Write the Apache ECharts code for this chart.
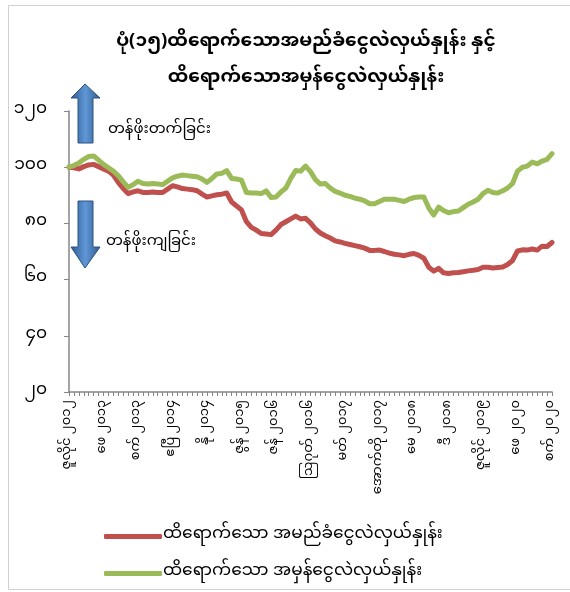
<!DOCTYPE html>
<html>
<head>
<meta charset="utf-8">
<script src="https://cdn.jsdelivr.net/npm/echarts@6/dist/echarts.min.js"></script>
<style>
  html, body { margin: 0; padding: 0; background: #fff; }
  #chart { width: 570px; height: 592px; }
</style>
</head>
<body>
<div id="chart"></div>
<script>
// monthly index, Jul 2012 - Sep 2020
var monthNames = ['ဇန်', 'ဖေ', 'မတ်', 'ဧပြီ', 'မေ', 'ဇွန်', 'ဇူလိုင်', 'ဩဂုတ်', 'စက်', 'အောက်တို', 'နို', 'ဒီ'];
var startYear = 2012;
var startMonth = 6; // July
var monthCount = 99;

var neerValues = [
  100.0, 99.8, 99.4, 100.2, 100.8, 101.0, 100.2, 99.4, 98.6, 97.2,
  94.6, 92.4, 90.6, 91.2, 91.6, 91.0, 91.0, 91.2, 91.0, 91.0,
  92.2, 93.4, 93.0, 92.4, 92.2, 92.0, 91.6, 90.4, 89.4, 89.8,
  90.2, 90.4, 90.8, 87.6, 86.2, 84.8, 80.6, 78.6, 77.6, 76.4,
  76.2, 76.0, 77.6, 79.6, 80.6, 81.6, 82.6, 81.6, 81.8, 80.2,
  78.0, 76.6, 75.6, 74.8, 73.8, 73.4, 72.9, 72.5, 72.1, 71.7,
  71.2, 70.4, 70.4, 70.5, 70.0, 69.4, 69.0, 68.8, 68.5, 69.0,
  69.3, 68.6, 67.6, 64.4, 63.0, 64.0, 62.4, 62.2, 62.4, 62.5,
  62.8, 63.1, 63.3, 63.6, 64.4, 64.4, 64.1, 64.3, 64.5, 65.4,
  66.8, 70.2, 70.6, 70.5, 70.9, 70.5, 71.9, 71.8, 73.2
];
var reerValues = [
  100.0, 100.6, 101.5, 102.8, 103.8, 104.0, 102.5, 101.0, 99.8, 98.6,
  97.0, 94.8, 92.8, 93.8, 95.0, 94.2, 94.0, 94.2, 94.0, 93.8,
  95.0, 96.2, 96.8, 97.2, 97.0, 96.8, 96.6, 95.8, 94.6, 96.0,
  97.6, 97.8, 98.8, 96.0, 95.8, 95.4, 91.0, 90.8, 90.8, 90.6,
  91.6, 89.2, 89.4, 91.2, 92.6, 96.0, 98.8, 98.6, 100.4, 98.4,
  95.6, 94.0, 94.2, 92.6, 91.4, 90.8, 90.0, 89.6, 89.0, 88.6,
  88.0, 87.0, 87.0, 87.8, 88.6, 88.6, 88.6, 88.2, 87.8, 88.6,
  89.2, 89.4, 89.4, 85.5, 83.0, 85.8, 84.6, 83.8, 84.2, 84.4,
  85.6, 86.8, 87.6, 88.6, 90.6, 91.8, 91.0, 90.8, 91.6, 92.6,
  94.2, 98.6, 100.0, 100.4, 101.8, 101.2, 102.2, 102.8, 104.8
];
var seriesNames = ['ထိရောက်သော အမည်ခံငွေလဲလှယ်နှုန်း', 'ထိရောက်သော အမှန်ငွေလဲလှယ်နှုန်း'];
var titleText = 'ပုံ(၁၅)ထိရောက်သောအမည်ခံငွေလဲလှယ်နှုန်း နှင့်\nထိရောက်သောအမှန်ငွေလဲလှယ်နှုန်း';
var upText = 'တန်ဖိုးတက်ခြင်း';
var downText = 'တန်ဖိုးကျခြင်း';

var font = "'Noto Sans Myanmar', 'Padauk', 'Myanmar Text', 'Noto Sans', sans-serif";

function mmDigits(s) {
  return String(s).replace(/\d/g, function (d) { return '၀၁၂၃၄၅၆၇၈၉'[d]; });
}

var categories = [];
for (var i = 0; i < monthCount; i++) {
  var m = (startMonth + i) % 12;
  var y = startYear + Math.floor((startMonth + i) / 12);
  categories.push(monthNames[m] + ' ' + mmDigits(y));
}

// blue arrow with light centre stripe
var arrowFill = new echarts.graphic.LinearGradient(0, 0, 1, 0, [
  { offset: 0, color: '#2f5a8e' },
  { offset: 0.5, color: '#5f97d6' },
  { offset: 1, color: '#2f5a8e' }
]);

var chart = echarts.init(document.getElementById('chart'));
chart.setOption({
  animation: false,
  backgroundColor: '#fff',
  textStyle: { fontFamily: font },
  title: {
    text: titleText,
    left: 301,
    textAlign: 'center',
    top: 21,
    textStyle: {
      fontFamily: font,
      fontSize: 18.5,
      fontWeight: 'bold',
      color: '#000',
      lineHeight: 36
    }
  },
  grid: {
    left: 69,
    right: 18,
    top: 111,
    bottom: 200
  },
  legend: {
    orient: 'vertical',
    left: 99,
    top: 523,
    itemWidth: 58,
    itemHeight: 5,
    itemGap: 20,
    icon: 'roundRect',
    textStyle: { fontFamily: font, fontSize: 17, color: '#000', padding: [0, 0, 0, -4] },
    data: seriesNames
  },
  xAxis: {
    type: 'category',
    boundaryGap: false,
    data: categories,
    axisLine: { lineStyle: { color: '#868686', width: 1.5 } },
    axisTick: { interval: 0, length: 4, lineStyle: { color: '#868686' } },
    axisLabel: {
      interval: 6,
      rotate: 90,
      margin: 8,
      fontFamily: font,
      fontSize: 13,
      color: '#000'
    }
  },
  yAxis: {
    type: 'value',
    min: 20,
    max: 120,
    interval: 20,
    axisLine: { show: true, lineStyle: { color: '#868686', width: 1.5 } },
    axisTick: { show: true, length: 5, lineStyle: { color: '#868686' } },
    splitLine: { show: false },
    axisLabel: {
      margin: 22,
      fontFamily: font,
      fontSize: 17,
      color: '#000',
      formatter: function (v) { return mmDigits(v); }
    }
  },
  series: [
    {
      name: seriesNames[0],
      type: 'line',
      data: neerValues,
      symbol: 'none',
      lineStyle: { color: '#C0504D', width: 5, cap: 'round', join: 'round' },
      itemStyle: { color: '#C0504D' }
    },
    {
      name: seriesNames[1],
      type: 'line',
      data: reerValues,
      symbol: 'none',
      lineStyle: { color: '#9BBB59', width: 5, cap: 'round', join: 'round' },
      itemStyle: { color: '#9BBB59' }
    }
  ],
  graphic: [
    {
      type: 'rect',
      shape: { x: 8.5, y: 5.5, width: 575, height: 584 },
      style: { fill: 'none', stroke: '#d0d0d0', lineWidth: 1 },
      z: -1
    },
    {
      type: 'polygon',
      shape: { points: [[85, 84], [100, 98], [93, 98], [93, 143], [78, 143], [78, 98], [71, 98]] },
      style: { fill: arrowFill, stroke: '#2c5282', lineWidth: 1 }
    },
    {
      type: 'polygon',
      shape: { points: [[78, 201], [93, 201], [93, 247], [100, 247], [85, 268], [71, 247], [78, 247]] },
      style: { fill: arrowFill, stroke: '#2c5282', lineWidth: 1 }
    },
    {
      type: 'text',
      left: 108,
      top: 124,
      style: { text: upText, fontFamily: font, fontSize: 15, fill: '#000' }
    },
    {
      type: 'text',
      left: 106,
      top: 236,
      style: { text: downText, fontFamily: font, fontSize: 15, fill: '#000' }
    }
  ]
});
</script>
</body>
</html>
